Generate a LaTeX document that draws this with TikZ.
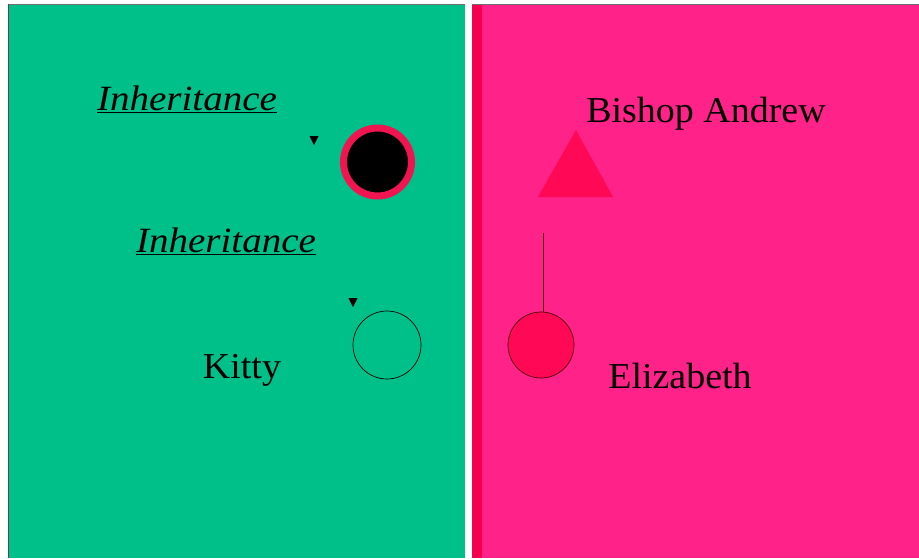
\documentclass[tikz,border=0pt]{standalone}
\usepackage{fontspec}
\setmainfont{Liberation Serif}
\definecolor{panelgreen}{RGB}{0,192,138}
\definecolor{panelpink}{RGB}{255,34,136}
\definecolor{stripred}{RGB}{245,0,80}
\definecolor{shapered}{RGB}{255,8,86}
\definecolor{ringred}{RGB}{240,20,80}
\definecolor{edgegray}{RGB}{110,110,110}
\tikzset{
  lbl/.style={inner sep=0pt, anchor=base, xscale=1.04, font=\fontsize{36.5}{40}\selectfont},
  ilbl/.style={inner sep=0pt, anchor=base, xscale=1.1, font=\fontsize{35.5}{40}\selectfont\itshape},
  tip/.style={fill=black, draw=none},
}
\begin{document}
\begin{tikzpicture}[x=1pt,y=-1pt]
\useasboundingbox (0,0) rectangle (919,558);
\fill[white] (0,0) rectangle (919,558);
% panels
\fill[panelgreen] (8,4) rectangle (465,558);
\fill[panelpink] (472,4) rectangle (919,558);
\fill[stripred] (472,4) rectangle (482,558);
\draw[edgegray, line width=1.2pt] (8,4.5) -- (465,4.5);
\draw[edgegray, line width=1.2pt] (472,4.5) -- (919,4.5);
\draw[black!70, line width=1pt] (8.5,4) -- (8.5,558);
% left panel
\node[ilbl] (inh1) at (187,110) {\underline{Inheritance}};
\node[ilbl] (inh2) at (226,252) {\underline{Inheritance}};
\node[lbl] (kitty) at (242,378) {Kitty};
\node[circle, fill=black, draw=ringred, line width=7pt, minimum size=68pt, inner sep=0pt] (c1) at (377.5,162) {};
\node[circle, draw=black, line width=0.7pt, minimum size=68pt, inner sep=0pt] (c2) at (387,345) {};
\fill[tip] (309.5,136) -- (318.5,136) -- (314,145) -- cycle;
\fill[tip] (348.5,298) -- (357.5,298) -- (353,307) -- cycle;
% right panel
\node[lbl] (bishop) at (706,122) {Bishop Andrew};
\node[lbl] (eliz) at (680,388) {Elizabeth};
\fill[shapered] (576,130) -- (538,197) -- (613,197) -- cycle;
\coordinate (top) at (543,233);
\node[circle, fill=shapered, draw=black!70!red, line width=0.7pt, minimum size=66pt, inner sep=0pt] (c3) at (541,345) {};
\draw[black!70!red, line width=0.8pt] (top) -- (c3.north -| top);
\end{tikzpicture}
\end{document}
